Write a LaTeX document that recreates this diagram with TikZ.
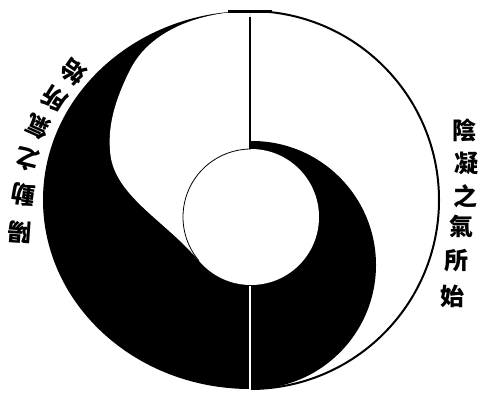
\documentclass[tikz,border=0pt]{standalone}
\usepackage{fontspec}
\newfontfamily\cjk{Noto Sans CJK TC}
\begin{document}
\begin{tikzpicture}[x=1pt,y=-1pt,
  glyph/.style={font=\cjk\bfseries\fontsize{24}{24}\selectfont, inner sep=0pt}]
\useasboundingbox (0,0) rectangle (489,393);
\fill[white] (0,0) rectangle (489,393);
% named points
\coordinate (top) at (250,11);
\coordinate (bot) at (250,389);
% left half of outer shape, black
\fill[black] (top) arc[start angle=270,end angle=90,x radius=207,y radius=189] -- cycle;
% white head (upper left)
\fill[white] (250,11) .. controls (200,12) and (150,30) .. (130,70)
  .. controls (115,100) and (108,125) .. (110,150)
  .. controls (112,195) and (165,220) .. (199,261) -- (250,218) -- cycle;
% black right body
\begin{scope}
\clip (250,0) rectangle (489,393);
\fill[black] (252,265) circle[radius=124];
\end{scope}
% inner white circle
\fill[white] (251,217) circle[radius=68];
\draw[line width=0.8pt] (251,217) ++(140:68) arc[start angle=140,end angle=270,radius=68];
% outer outline, right half
\draw[line width=2pt] (top) arc[start angle=270,end angle=450,radius=189];
\draw[line width=3pt] (228,12) -- (272,12);
% central lines
\draw[line width=1.6pt] (250,17) -- (250,149);
\draw[white,line width=1.6pt] (250,286) -- (250,391);
% right text
\node[glyph] (r1) at (464,130) {陰};
\node[glyph] (r2) at (466,163) {凝};
\node[glyph] (r3) at (465,196) {之};
\node[glyph] (r4) at (461,226) {氣};
\node[glyph] (r5) at (456,261) {所};
\node[glyph] (r6) at (452,296) {始};
% left text, upside down
\node[glyph,rotate=176] (l1) at (20,232) {陽};
\node[glyph,rotate=172] (l2) at (23,195) {動};
\node[glyph,rotate=166] (l3) at (28,160) {之};
\node[glyph,rotate=156] (l4) at (38,127) {氣};
\node[glyph,rotate=148] (l5) at (55,99) {所};
\node[glyph,rotate=145] (l6) at (73,72) {始};
\end{tikzpicture}
\end{document}
